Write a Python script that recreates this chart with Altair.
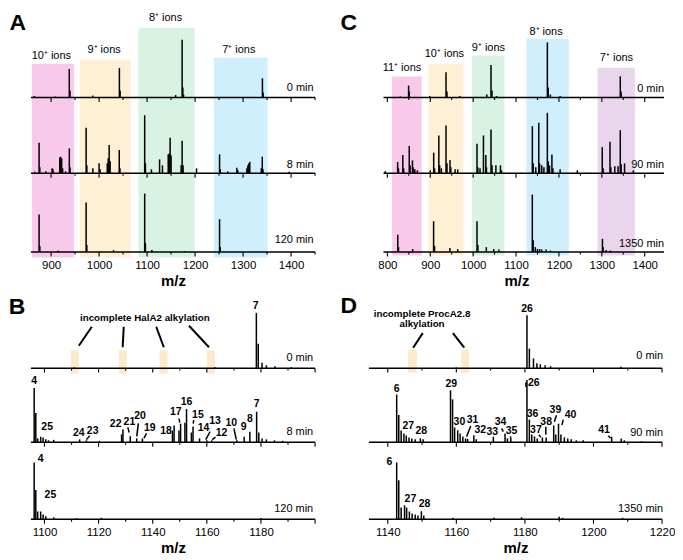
import altair as alt
import pandas as pd

FONT = "Liberation Sans"
OFFSETS = [155, 79, 0]  # stacked trace baselines (panel units); bottom trace sits on the axis

# ---------------- Panel A: HalA2 product, charge states ----------------
A_TIMES = ["0 min", "8 min", "120 min"]
A_T0 = [(865, 1.5), (909, 1.0), (937.9, 28.7), (939.4, 7.0), (986.7, 2.0), (1042.3, 29.7),
        (1043.8, 7.0), (1159.5, 2.5), (1173.0, 58.0), (1174.5, 10.0), (1176, 3.0),
        (1340.3, 19.3), (1341.8, 5.0)]
A_T1 = [(866, 1.5), (875.0, 30.6), (876.5, 6.0), (889, 2.0), (902.0, 5.0), (904.0, 4.0),
        (918.0, 16.0), (920.0, 16.7), (922.0, 15.0), (924.0, 5.0), (930, 2.0), (938.0, 25.0),
        (939.5, 6.0), (973.0, 45.7), (974.5, 8.0), (987.0, 5.0), (1000.0, 10.0), (1002.0, 4.0),
        (1017.0, 10.0), (1019.0, 15.0), (1021.0, 28.3), (1023.0, 12.0), (1042.0, 23.3),
        (1043.5, 5.0), (1095.0, 58.3), (1096.5, 10.0), (1109.0, 4.0), (1126.0, 14.0),
        (1132.0, 8.0), (1144.0, 19.0), (1146.0, 20.0), (1148.0, 35.7), (1150.0, 18.0),
        (1171.0, 8.0), (1173.0, 32.7), (1175.0, 8.0), (1203.0, 5.0), (1251.0, 19.0),
        (1252.5, 4.0), (1268.0, 2.0), (1287.0, 5.7), (1289.0, 3.0), (1308.0, 5.0),
        (1310.0, 8.0), (1312.0, 10.0), (1314.0, 11.7), (1338.0, 5.0), (1340.0, 16.7),
        (1341.5, 4.0), (1396.0, 1.5)]
A_T2 = [(875, 37.7), (876.5, 6.0), (915, 1.5), (973, 49.7), (974.5, 7.0), (1030, 2.0),
        (1095, 58.7), (1096.5, 9.0), (1110, 2.0), (1178, 1.0), (1251, 33.0), (1252.5, 5.0)]
A_BOX_LO = [860, 960, 1082, 1239]
A_BOX_HI = [948, 1066, 1199, 1351]
A_BOX_TOP = [189, 193, 225, 195]
A_ION_TEXT = ["10⁺ ions", "9⁺ ions", "8⁺ ions", "7⁺ ions"]
A_ION_X = [900.5, 1010.4, 1138.5, 1291]
A_ION_Y = [197, 203, 235, 203]

# ---------------- Panel C: ProcA2.8 product, charge states ----------------
C_TIMES = ["0 min", "90 min", "1350 min"]
C_T0 = [(830, 1.0), (849.5, 12.0), (851, 6.0), (898.7, 1.5), (936.7, 25.3), (939, 6.0),
        (968.6, 1.5), (1031.7, 3.0), (1041.6, 32.7), (1044, 7.0), (1054.6, 1.5),
        (1173, 55.3), (1175, 10.0), (1180, 3.0), (1202.7, 1.5), (1343, 21.3), (1345, 6.0)]
C_T1 = [(795, 2.0), (824, 11.3), (826, 5.0), (836, 18.3), (838, 5.0), (851, 27.3), (853, 8.0),
        (858.5, 13.0), (860, 6.0), (864, 4.0), (870, 3.0), (900, 3.0), (908, 20.7), (910, 5.0),
        (920, 38.0), (922, 8.0), (926, 5.0), (936.7, 48.0), (939, 10.0), (946, 13.3), (948, 6.0),
        (958, 4.0), (964, 4.0), (1009, 29.7), (1011, 6.0), (1016, 5.0), (1024, 38.0),
        (1029.5, 18.3), (1031, 6.0), (1041.6, 44.0), (1044, 8.0), (1053, 8.0), (1063.6, 8.0),
        (1066, 3.0), (1138, 47.3), (1140, 10.0), (1146, 6.0), (1153, 50.7), (1155, 10.0),
        (1160, 8.0), (1165, 6.0), (1173, 60.7), (1175, 12.0), (1178, 8.0), (1183.6, 19.0),
        (1186, 5.0), (1202.7, 4.0), (1242.8, 3.0), (1301, 26.3), (1303, 5.0), (1319, 31.7),
        (1321, 6.0), (1330.2, 7.0), (1337.8, 7.0), (1343, 43.3), (1345, 9.0), (1353, 10.0),
        (1373.6, 3.0)]
C_T2 = [(824.3, 17.3), (826, 5.0), (859, 3.0), (907.8, 31.0), (910, 6.0), (945.8, 4.0),
        (964, 3.0), (1009, 31.0), (1011, 7.0), (1030.7, 5.0), (1048, 3.0), (1060, 2.5),
        (1137.9, 57.7), (1140, 12.0), (1145, 5.0), (1150, 3.0), (1155, 3.0), (1160, 2.5),
        (1170, 2.5), (1180, 1.5), (1301.4, 13.3), (1303, 5.0), (1310, 2.0), (1320, 1.5)]
C_BOX_LO = [811, 896, 997, 1124, 1290]
C_BOX_HI = [880, 977, 1073, 1223, 1377]
C_BOX_TOP = [176, 189, 197, 214, 185]
C_ION_TEXT = ["11⁺ ions", "10⁺ ions", "9⁺ ions", "8⁺ ions", "7⁺ ions"]
C_ION_X = [834, 933, 1035.5, 1170, 1334]
C_ION_Y = [185, 199, 205, 221, 195]

# ---------------- Panel B: HalA2 8+ region ----------------
B_TIMES = ["0 min", "8 min", "120 min"]
B_T0 = [(1111, 0.8), (1163, 1.0), (1178.3, 56.7), (1179, 25.0), (1180.4, 5.7), (1182, 3.0),
        (1185.2, 2.0), (1191.2, 1.0)]
B_T1 = [(1096.2, 55.7), (1096.8, 30.0), (1097.5, 4.0), (1098.6, 5.7), (1099.5, 5.0),
        (1100.5, 3.0), (1101.5, 2.0), (1103.4, 2.5), (1113, 3.0), (1115.5, 2.0), (1120.3, 1.5),
        (1128.5, 8.0), (1129, 13.0), (1131.7, 6.3), (1134.1, 4.0), (1136.2, 4.0), (1147.3, 12.0),
        (1147.9, 17.3), (1149.7, 12.0), (1150.3, 19.0), (1151.9, 20.0), (1152.5, 34.0),
        (1154.3, 10.0), (1154.9, 16.3), (1157.3, 4.0), (1160, 2.0), (1161.8, 2.0),
        (1171.1, 2.0), (1173.8, 5.7), (1175.9, 10.7), (1178.4, 31.3), (1179.2, 10.0),
        (1180.4, 4.0), (1182, 3.0), (1185, 2.0), (1188, 1.5)]
B_T2 = [(1096.2, 58.3), (1096.8, 30.0), (1097.5, 8.0), (1098.6, 8.0), (1099.5, 5.0),
        (1100.5, 3.0), (1103.4, 2.0), (1112, 1.0), (1121, 1.5), (1180, 1.2)]
B_HL_LO = [1109.8, 1127.5, 1142.5, 1160.0]
B_HL_HI = [1112.7, 1130.5, 1145.5, 1163.0]
B_LABELS = ["7", "4", "25", "24", "23", "22", "21", "20", "19", "18", "17", "16", "15", "14",
            "13", "12", "10", "9", "8", "7", "4", "25"]
B_LABEL_X = [1178, 1096.2, 1101, 1112.7, 1117.8, 1126.3, 1131.4, 1135.3, 1138.9, 1144.9,
             1148.5, 1152.5, 1156.7, 1158.8, 1163, 1165.4, 1169, 1173.6, 1175.9, 1178.4,
             1098.6, 1102.2]
B_LABEL_Y = [219, 141.7, 94.3, 89, 91, 97.3, 100, 105.7, 94, 90.7, 110, 120.7, 107.3, 93.3,
             100.7, 89, 98.3, 94.3, 103.3, 118.3, 62, 25]
B_LEADERS = [(1116.7, 85.7, 1115.5, 81.7), (1130.8, 94.3, 1131.3, 89), (1134.7, 98.3, 1134.1, 85),
             (1137.7, 88.3, 1136.8, 83.3), (1149.7, 103.3, 1150, 99.3), (1155.2, 101.7, 1154.9, 98.3),
             (1161.2, 90, 1159.6, 81.7), (1163.2, 84.3, 1162, 81.7), (1170, 93.3, 1170.9, 81.7)]
B_NOTE_LINES = [(1117.5, 197.5, 1112.7, 178), (1129.3, 197.5, 1128.9, 176.5),
                (1141.3, 197.5, 1144.1, 176.5), (1153.4, 198.5, 1160.8, 176.5)]
B_NOTE = ["incomplete HalA2 alkylation"]
B_NOTE_X = [1137.1]
B_NOTE_Y = [206]

# ---------------- Panel D: ProcA2.8 8+ region ----------------
D_TIMES = ["0 min", "90 min", "1350 min"]
D_T0 = [(1160, 0.8), (1180.6, 54.3), (1181.3, 20.0), (1182.5, 10.0), (1183.5, 5.0),
        (1184.5, 4.0), (1185.9, 3.0), (1187.5, 2.0), (1208, 1.5)]
D_T1 = [(1142.6, 49.0), (1143.2, 28.0), (1143.9, 12.0), (1144.7, 9.0), (1145.4, 7.0),
        (1146.2, 5.0), (1147, 4.0), (1148, 3.0), (1149.5, 4.0), (1150.3, 3.0), (1158.3, 53.3),
        (1158.9, 44.0), (1159.5, 15.0), (1160.4, 12.3), (1161.1, 9.0), (1161.9, 6.0),
        (1162.7, 4.0), (1163.3, 3.5), (1165.1, 7.3), (1165.8, 3.0), (1170.8, 5.7),
        (1174.2, 9.0), (1174.9, 4.0), (1175.9, 3.0), (1180.6, 64.0), (1181.3, 23.3),
        (1182, 8.0), (1182.8, 6.0), (1183.6, 4.0), (1185.1, 5.0), (1186.2, 5.0),
        (1188.4, 17.3), (1189, 8.0), (1189.8, 19.0), (1190.5, 8.0), (1191.5, 5.0),
        (1192.5, 4.0), (1193.5, 3.0), (1195, 2.0), (1197, 2.0), (1205.3, 5.7), (1208.1, 4.0),
        (1209, 2.0), (1214, 1.0)]
D_T2 = [(1142.6, 58.3), (1143.2, 40.0), (1143.9, 12.0), (1144.9, 14.3), (1145.5, 12.0),
        (1146.3, 8.0), (1147.1, 6.0), (1148, 5.0), (1148.8, 4.0), (1149.8, 8.3), (1150.5, 4.0),
        (1159, 1.5), (1171, 1.5), (1179, 2.0), (1190, 2.5), (1191, 1.5), (1208.5, 1.5)]
D_HL_LO = [1145.9, 1161.4]
D_HL_HI = [1148.5, 1163.7]
D_LABELS = ["26", "6", "27", "28", "29", "30", "31", "32", "33", "34", "35", "26", "36", "37",
            "38", "39", "40", "41", "6", "27", "28"]
D_LABEL_X = [1180.6, 1142.6, 1146, 1149.8, 1158.5, 1160.9, 1164.7, 1167, 1170.5, 1172.9,
             1176.1, 1182.6, 1182.2, 1183.2, 1186.2, 1188.9, 1193.3, 1203.1, 1140.5, 1146.6,
             1150.7]
D_LABEL_Y = [215.7, 134, 95.7, 90.7, 139, 100, 102.3, 91.7, 90, 100, 90.7, 140, 108.3, 91.7,
             100, 111.7, 106.7, 91.7, 59, 21, 15.7]
D_LEADERS = [(1164.2, 95.7, 1163, 85), (1173.2, 93.3, 1173.7, 90), (1175.8, 85, 1175.9, 81.7),
             (1180.3, 140.7, 1180.3, 135.7), (1184.1, 86.7, 1184.6, 84.3),
             (1186.1, 95, 1186.1, 86.7), (1189.2, 106.7, 1188.6, 100),
             (1191.2, 102.3, 1190.8, 96.7), (1204.3, 85.7, 1205, 83.3)]
D_NOTE_LINES = [(1150.2, 191, 1147.4, 176), (1159, 191, 1162.3, 176)]
D_NOTE = ["incomplete ProcA2.8", "alkylation"]
D_NOTE_X = [1150, 1150]
D_NOTE_Y = [211, 200]

# ---------------- styles ----------------
BOX_COLORS_A = ["#F9C9EC", "#FDF0D5", "#D8F2E3", "#CFEFFC"]
BOX_COLORS_C = ["#F9C9EC", "#FDF0D5", "#D8F2E3", "#CFEFFC", "#E9D5EC"]
HL_COLOR = "#FCE8C5"


def make_panel(cfg):
    xs = alt.Scale(domain=cfg["domain"], nice=False, zero=False)
    ys = alt.Scale(domain=[0, cfg["ytop"]], nice=False, zero=False)
    axis = alt.Axis(values=cfg["labels"], format="d", domain=False, ticks=False, tickSize=0,
                    grid=False, labelFont=FONT, labelFontSize=11.5, labelColor="black",
                    labelPadding=7, labelFlush=False, labelOverlap=False,
                    title="m/z", titleFont=FONT, titleFontSize=15, titleFontWeight="bold",
                    titleColor="black", titlePadding=3)

    def X(f):
        return alt.X(f, type="quantitative", scale=xs, axis=axis)

    def Y(f):
        return alt.Y(f, type="quantitative", scale=ys, axis=None)

    layers = []
    if cfg.get("boxes") is not None:
        layers.append(alt.Chart(cfg["boxes"]).mark_rect(opacity=cfg.get("box_opacity", 1)).encode(
            x=X("x"), x2="x2", y=Y("y"), y2="y2", color=alt.Color("c:N", scale=None)))
    base = pd.DataFrame({"x": [cfg["base"][0]] * 3, "x2": [cfg["base"][1]] * 3, "y": OFFSETS})
    layers.append(alt.Chart(base).mark_rule(color="black", strokeWidth=1.5).encode(
        x=X("x"), x2="x2", y=Y("y")))
    trows = []
    for off in OFFSETS:
        for t in cfg["major"]:
            trows.append({"x": t, "y": off, "y2": off - 4.5})
        for t in cfg["minor"]:
            trows.append({"x": t, "y": off, "y2": off - 2.5})
    layers.append(alt.Chart(pd.DataFrame(trows)).mark_rule(color="black", strokeWidth=1.1).encode(
        x=X("x"), y=Y("y"), y2="y2"))
    prow = []
    for off, tr in zip(OFFSETS, cfg["traces"]):
        for mz, inten in tr:
            prow.append({"x": mz, "y": off, "y2": off + inten})
    layers.append(alt.Chart(pd.DataFrame(prow)).mark_rule(color="black", strokeWidth=1.5).encode(
        x=X("x"), y=Y("y"), y2="y2"))
    for key, sw in (("leaders", 1.5), ("note_lines", 2.0)):
        if cfg.get(key):
            seg = pd.DataFrame(cfg[key], columns=["xa", "ya", "xb", "yb"])
            layers.append(alt.Chart(seg).mark_rule(color="#000000", strokeWidth=sw,
                                                   opacity=1).encode(
                x=X("xa"), x2="xb", y=Y("ya"), y2="yb"))
    tl = pd.DataFrame({"t": cfg["times"], "x": [cfg["time_x"]] * 3, "y": cfg["time_y"]})
    layers.append(alt.Chart(tl).mark_text(align="right", baseline="middle", font=FONT,
                                          fontSize=11, color="black").encode(
        x=X("x"), y=Y("y"), text="t:N"))
    for tdf, style in cfg["texts"]:
        layers.append(alt.Chart(tdf).mark_text(baseline="middle", font=FONT, color="black",
                                               **style).encode(x=X("x"), y=Y("y"), text="t:N"))
    return alt.layer(*layers).properties(width=cfg["w"], height=cfg["h"])


def boxes_df(lo, hi, top, bottom, colors):
    return pd.DataFrame({"x": lo, "x2": hi, "y": [bottom] * len(lo), "y2": top, "c": colors})


def text_df(t, x, y):
    return pd.DataFrame({"t": t, "x": x, "y": y})


LETTER = dict(align="left", fontSize=23, fontWeight="bold")
ION = dict(align="center", fontSize=11)
PEAK = dict(align="center", fontSize=10.5, fontWeight="bold")
NOTE = dict(align="center", fontSize=9.8, fontWeight="bold")

panel_A = make_panel(dict(
    domain=[858, 1450], ytop=240, w=285, h=240, base=[858, 1450],
    labels=[900, 1000, 1100, 1200, 1300, 1400],
    major=[900, 1000, 1100, 1200, 1300, 1400], minor=[950, 1050, 1150, 1250, 1350, 1450],
    traces=[A_T0, A_T1, A_T2],
    boxes=boxes_df(A_BOX_LO, A_BOX_HI, A_BOX_TOP, -5.5, BOX_COLORS_A),
    times=A_TIMES, time_x=1447, time_y=[164.3, 87.7, 12],
    texts=[(text_df(A_ION_TEXT, A_ION_X, A_ION_Y), ION),
           (text_df(["A"], [813.1], [229.5]), LETTER)],
))

panel_C = make_panel(dict(
    domain=[757, 1445], ytop=240, w=296, h=240, base=[791, 1445],
    labels=[800, 900, 1000, 1100, 1200, 1300, 1400],
    major=[800, 900, 1000, 1100, 1200, 1300, 1400], minor=[850, 950, 1050, 1150, 1250, 1350],
    traces=[C_T0, C_T1, C_T2],
    boxes=boxes_df(C_BOX_LO, C_BOX_HI, C_BOX_TOP, -3.5, BOX_COLORS_C),
    times=C_TIMES, time_x=1445, time_y=[163.7, 87, 7.7],
    texts=[(text_df(C_ION_TEXT, C_ION_X, C_ION_Y), ION),
           (text_df(["C"], [691], [229.5]), LETTER)],
))

panel_B = make_panel(dict(
    domain=[1095, 1200], ytop=225, w=285, h=220, base=[1095, 1200],
    labels=[1100, 1120, 1140, 1160, 1180],
    major=[1100, 1120, 1140, 1160, 1180, 1200], minor=[1110, 1130, 1150, 1170, 1190],
    traces=[B_T0, B_T1, B_T2],
    boxes=boxes_df(B_HL_LO, B_HL_HI, [173.3] * 4, 149.3, [HL_COLOR] * 4), box_opacity=0.9,
    leaders=B_LEADERS, note_lines=B_NOTE_LINES,
    times=B_TIMES, time_x=1199.3, time_y=[165.7, 89.3, 11],
    texts=[(text_df(B_LABELS, B_LABEL_X, B_LABEL_Y), PEAK),
           (text_df(B_NOTE, B_NOTE_X, B_NOTE_Y), NOTE),
           (text_df(["B"], [1086.8], [218]), LETTER)],
))

panel_D = make_panel(dict(
    domain=[1134.5, 1220], ytop=225, w=294, h=220, base=[1134.5, 1220],
    labels=[1140, 1160, 1180, 1200, 1220],
    major=[1140, 1160, 1180, 1200, 1220], minor=[1150, 1170, 1190, 1210],
    traces=[D_T0, D_T1, D_T2],
    boxes=boxes_df(D_HL_LO, D_HL_HI, [174] * 2, 150, [HL_COLOR] * 2), box_opacity=0.9,
    leaders=D_LEADERS, note_lines=D_NOTE_LINES,
    times=D_TIMES, time_x=1220.3, time_y=[167, 89, 11],
    texts=[(text_df(D_LABELS, D_LABEL_X, D_LABEL_Y), PEAK),
           (text_df(D_NOTE, D_NOTE_X, D_NOTE_Y), NOTE),
           (text_df(["D"], [1126.2], [219]), LETTER)],
))

chart = alt.concat(
    panel_A, panel_C, panel_B, panel_D,
    columns=2, spacing={"row": 48, "column": 54}, bounds="flush", align="none",
).properties(padding={"left": 0, "top": 3, "right": 0, "bottom": 0},
             background="white").configure_view(stroke=None)

chart.save("out.html", embed_options={"renderer": "svg", "actions": False})
